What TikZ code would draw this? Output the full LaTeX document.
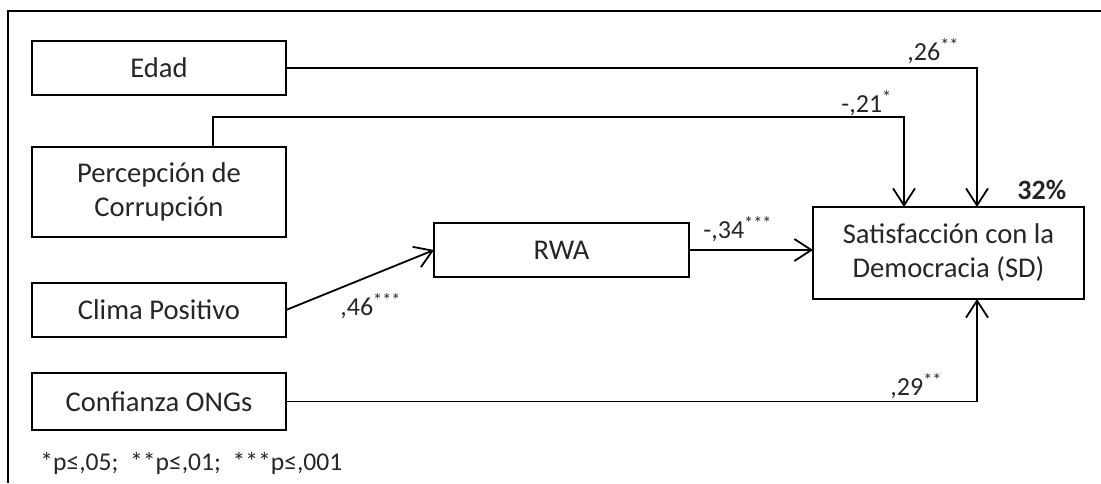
\documentclass[tikz,border=0pt]{standalone}
\usepackage{fontspec}
\setmainfont{Carlito}
\usetikzlibrary{arrows.meta, positioning, calc}

\begin{document}
\begin{tikzpicture}[x=0.5pt, y=-0.5pt, font=\fontsize{14.3}{17}\selectfont,
    box/.style={draw, line width=0.9pt, minimum width=127pt, minimum height=27pt,
        align=center, inner sep=2pt, outer sep=0pt, text=black!85},
    coef/.style={anchor=base west, inner sep=0pt, text=black!85,
        font=\fontsize{13}{15}\selectfont},
    link/.style={draw, line width=0.9pt, -{Straight Barb[length=8.5pt, width=11pt]}}]
    \useasboundingbox (0,0) rectangle (1101,483);
    \draw[line width=1.2pt] (8,483) -- (8,11) -- (1101,11);
    \node[box] (edad) at (159,68) {Edad};
    \node[box, minimum height=45pt, below=26pt of edad] (perc) {Percepción de\\Corrupción};
    \node[box, below=23pt of perc] (clima) {Clima Positivo};
    \node[box, minimum height=28.5pt, below=18pt of clima] (conf) {Confianza ONGs};
    \node[box, minimum width=127.5pt] (rwa) at (561.5,250) {RWA};
    \node[box, minimum width=135.5pt, minimum height=46pt] (sd) at (948.5,253) {Satisfacción con la\\Democracia (SD)};
    \draw[link] (edad.east) -| ([xshift=14.25pt]sd.north);
    \draw[link] ([xshift=27pt]perc.north) -- ++(0pt,15pt) -| ([xshift=-22.25pt]sd.north);
    \draw[link] (clima.east) -- (rwa.west);
    \draw[link] (rwa.east) -- (rwa.east -| sd.west);
    \draw[link] (conf.east) -| ([xshift=14.25pt]sd.south);
    % coeficientes
    \node[coef] (c26) at (907,60) {,26\textsuperscript{**}};
    \node[coef] (c21) at (841,112) {-,21\textsuperscript{*}};
    \node[coef] (c34) at (703,238) {-,34\textsuperscript{***}};
    \node[coef] (c46) at (340,315) {,46\textsuperscript{***}};
    \node[coef] (c29) at (890,395) {,29\textsuperscript{**}};
    \node[coef, font=\fontsize{14}{16}\selectfont\bfseries] (r2) at (1017,199) {32\%};
    \node[coef, font=\fontsize{12.8}{14}\selectfont] (nota) at (40,470) {*p≤,05;\ \ **p≤,01;\ \ ***p≤,001};
\end{tikzpicture}
\end{document}
